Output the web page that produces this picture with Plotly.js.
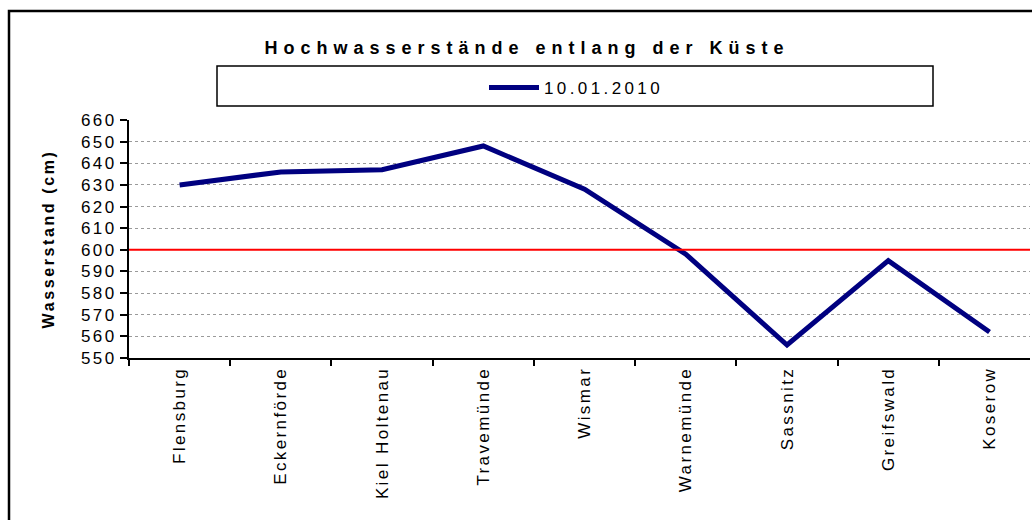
<!DOCTYPE html>
<html>
<head>
<meta charset="utf-8">
<script src="https://cdn.plot.ly/plotly-3.0.1.min.js"></script>
<style>
  html, body { margin: 0; padding: 0; background: #fff; }
  #chart { width: 1032px; height: 520px; }
  .gtitle { letter-spacing: 6px; }
  g.xtick text, g.ytick text { letter-spacing: 2.4px; }
  text.legendtext { letter-spacing: 3.4px; }
  text.ytitle { letter-spacing: 2.6px; }
</style>
</head>
<body>
<div id="chart"></div>
<script>
const categories = ["Flensburg", "Eckernförde", "Kiel Holtenau", "Travemünde", "Wismar", "Warnemünde", "Sassnitz", "Greifswald", "Koserow"];
const seriesName = "10.01.2010";
const waterLevels = [630, 636, 637, 648, 628, 598, 556, 595, 562];
const thresholdLevel = 600;
const yTickValues = [550, 560, 570, 580, 590, 600, 610, 620, 630, 640, 650, 660];
const chartTitle = "Hochwasserstände entlang der Küste";
const yAxisTitle = "Wasserstand (cm)";

const FONT = '"Liberation Sans", Arial, sans-serif';

// pixel geometry helpers (plot area: x 129..1030, y 120..358)
const L = 129, W = 901, T = 120, H = 238;
const px = v => (v - L) / W;
const py = v => (T + H - v) / H;

const trace = {
  type: 'scatter',
  mode: 'lines',
  x: categories,
  y: waterLevels,
  name: seriesName,
  line: { color: '#000080', width: 5 },
  showlegend: true,
  cliponaxis: false
};

const layout = {
  width: 1032,
  height: 520,
  margin: { l: L, r: 1032 - L - W, t: T, b: 520 - T - H, pad: 0 },
  paper_bgcolor: '#ffffff',
  plot_bgcolor: '#ffffff',
  font: { family: FONT, size: 17, color: '#000' },
  title: {
    text: '<b>' + chartTitle + '</b>',
    font: { family: FONT, size: 18, color: '#000' },
    xref: 'container', x: 527 / 1032, xanchor: 'center',
    yref: 'container', y: 1 - 48 / 520, yanchor: 'middle'
  },
  showlegend: true,
  legend: {
    x: px(484), xanchor: 'left',
    y: py(88), yanchor: 'middle',
    bgcolor: 'rgba(0,0,0,0)',
    borderwidth: 0,
    itemwidth: 50,
    font: { family: FONT, size: 17, color: '#000' }
  },
  xaxis: {
    type: 'category',
    range: [-0.5, 8.4],
    tickson: 'boundaries',
    ticks: 'outside',
    ticklen: 6,
    tickwidth: 2,
    tickcolor: '#000',
    tickangle: -90,
    tickfont: { family: FONT, size: 17, color: '#000' },
    showline: true,
    linecolor: '#000',
    linewidth: 2,
    showgrid: false,
    zeroline: false,
    fixedrange: true
  },
  yaxis: {
    range: [550, 660],
    tickvals: yTickValues,
    ticktext: yTickValues.map(String),
    ticks: 'outside',
    ticklen: 7,
    tickwidth: 2,
    tickcolor: '#000',
    tickfont: { family: FONT, size: 17, color: '#000' },
    showline: true,
    linecolor: '#000',
    linewidth: 2,
    showgrid: true,
    gridcolor: '#9a9a9a',
    gridwidth: 1,
    griddash: 'dot',
    zeroline: false,
    fixedrange: true,
    title: {
      text: '<b>' + yAxisTitle + '</b>',
      font: { family: FONT, size: 16, color: '#000' },
      standoff: 22
    }
  },
  shapes: [
    // threshold line
    { type: 'line', xref: 'paper', yref: 'y', x0: 0, x1: 1, y0: thresholdLevel, y1: thresholdLevel,
      line: { color: '#ff0000', width: 2 }, layer: 'above' },
    // legend box
    { type: 'rect', xref: 'paper', yref: 'paper', x0: px(217), x1: px(933), y0: py(66), y1: py(106),
      line: { color: '#000', width: 1.5 }, fillcolor: '#ffffff', layer: 'below' },
    // outer chart border
    { type: 'rect', xref: 'paper', yref: 'paper', x0: px(9), x1: px(1045), y0: py(11), y1: py(535),
      line: { color: '#000', width: 2.5 }, layer: 'below' }
  ]
};

Plotly.newPlot('chart', [trace], layout, { displayModeBar: false, staticPlot: true });
</script>
</body>
</html>
